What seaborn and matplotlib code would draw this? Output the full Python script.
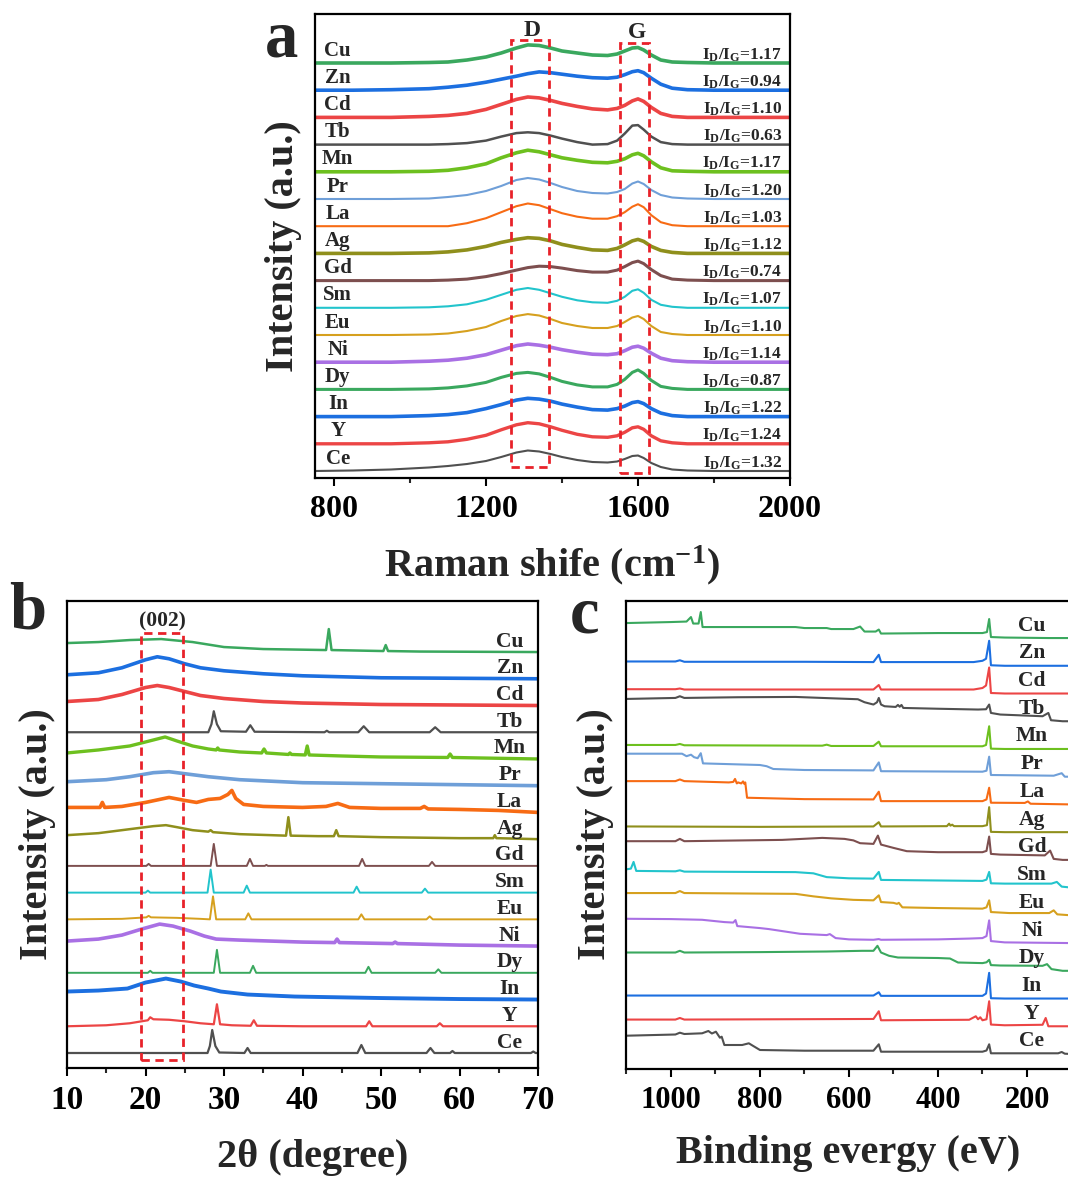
import numpy as np
import pandas as pd
import matplotlib
matplotlib.use("Agg")
import matplotlib.pyplot as plt
from matplotlib.patches import Rectangle
from matplotlib.ticker import FixedLocator
import seaborn as sns

# ------------------------------------------------------------------
# Samples (top to bottom in every panel) and their colours
# ------------------------------------------------------------------
samples = ["Cu", "Zn", "Cd", "Tb", "Mn", "Pr", "La", "Ag",
           "Gd", "Sm", "Eu", "Ni", "Dy", "In", "Y", "Ce"]
colors = ["#3aa85e", "#1c6fe0", "#ec4545", "#505050", "#6dc01f", "#6f9fd8",
          "#f76b14", "#8f8f1c", "#7d4f4f", "#22c4cc", "#d6a01e", "#a970e4",
          "#3aa85e", "#1c6fe0", "#ec4545", "#505050"]
id_ig = [1.17, 0.94, 1.10, 0.63, 1.17, 1.20, 1.03, 1.12,
         0.74, 1.07, 1.10, 1.14, 0.87, 1.22, 1.24, 1.32]

# ------------------------------------------------------------------
# (a) Raman: intensity above each trace's baseline
# ------------------------------------------------------------------
raman_shift = [750, 850, 950, 1050, 1100, 1150, 1200, 1240, 1280, 1310, 1340, 1370, 1400, 1440,
               1480, 1520, 1545, 1565, 1585, 1600, 1615, 1635, 1660, 1690, 1730, 1800, 1900, 2000]
raman_cu = [0, 0, 0, 0.5, 1, 3, 6, 10, 15, 18.1, 17.5, 15, 12, 10, 8, 7.5, 9, 12, 15, 15.5, 13, 8, 3, 1, 0.5, 0, 0, 0]
raman_zn = [0, 0, 0.5, 1.5, 3, 5, 8, 11, 14, 16.5, 18.3, 17.5, 16, 14, 12.5, 12, 13, 15.5, 18.5, 19.5, 17.5, 12, 6, 2, 0.5, 0, 0, 0]
raman_cd = [0, 0, 0, 1, 2, 4, 8, 13, 18, 20.4, 19.5, 17, 14, 11, 8.5, 7.5, 9, 12, 16.5, 18.5, 16, 10, 4, 1, 0, 0, 0, 0]
raman_tb = [0, 0, 0, 0, 0.5, 1.5, 4, 8, 11.5, 12.3, 11.5, 9, 6, 2.5, 0, 0.5, 4, 11, 19, 19.5, 15, 8, 2.5, 0.5, 0, 0, 0, 0]
raman_mn = [0, 0, 0, 0.5, 1.5, 4, 8, 14, 19, 21.6, 20, 17, 14, 11.5, 9.5, 9, 10.5, 13, 17, 18.5, 16, 10, 4, 1, 0.5, 0, 0, 0]
raman_pr = [0, 0, 0, 0.5, 2, 4, 8, 13, 19, 21, 19.5, 16, 12, 8, 6, 5.5, 7, 10, 15.5, 17.5, 15, 9, 4, 1.5, 0.5, 0, 0, 0]
raman_la = [0, 0, 0, 0, 0, 3, 8, 14, 20, 22.7, 21, 17, 13, 9.5, 7.5, 7.5, 10, 14, 19.5, 22, 19, 11, 4, 1, 0, 0, 0, 0]
raman_ag = [0, 0, 0, 0.5, 1.5, 3.5, 7, 11, 14, 15.7, 15, 12.5, 9, 6, 3.5, 3, 5, 8.5, 12.5, 14, 12, 7, 3, 1, 0, 0, 0, 0]
raman_gd = [0, 0, 0, 0, 0.5, 1.5, 4, 7, 10.5, 13, 14.4, 14, 12.5, 10, 8.5, 8.5, 10.5, 14, 18, 19.5, 17, 11, 5, 1.5, 0.5, 0, 0, 0]
raman_sm = [0, 0, 0, 0.5, 1.5, 3.5, 8, 13, 18, 19.8, 18, 14.5, 11, 7.5, 5.5, 5, 7, 11, 17, 18.5, 15, 8, 3, 1, 0, 0, 0, 0]
raman_eu = [0, 0, 0, 0.5, 1.5, 4, 8, 14, 19, 20.9, 19.5, 16, 12, 9, 7, 7, 9, 13, 17.5, 19, 16, 9, 3, 1, 0, 0, 0, 0]
raman_ni = [0, 0, 0, 1, 2, 4, 7.5, 12, 16.5, 18.2, 17, 15, 12.5, 10, 8, 7.5, 8.5, 11.5, 15, 16, 14, 9, 4, 1.5, 0.5, 0, 0, 0]
raman_dy = [0, 0, 0, 0.5, 1.5, 3.5, 7, 12, 16, 17, 15.5, 12, 8, 4.5, 2.5, 2.5, 5, 10, 17, 19.5, 16, 9, 3, 1, 0, 0, 0, 0]
raman_in = [0, 0, 0, 1, 2, 4, 8, 12, 16.5, 18.3, 17.5, 15.5, 12.5, 9.5, 7, 6.5, 8, 10.5, 14, 15, 13, 8, 3.5, 1, 0, 0, 0, 0]
raman_y = [0, 0, 0, 1, 2, 4.5, 8.5, 14, 19, 21.1, 20, 17, 13.5, 9.5, 7, 6.5, 8, 11.5, 16, 17, 14.5, 8, 3, 1, 0, 0, 0, 0]
raman_ce = [0, 0.5, 1.5, 3.5, 5, 7, 10, 14, 18.5, 20.5, 19.5, 17, 14, 11, 9, 8.5, 9.5, 12, 15, 15.5, 13, 8, 4, 1.5, 0.5, 0, 0, 0]

# ------------------------------------------------------------------
# (b) XRD: (2theta, intensity above baseline)
# ------------------------------------------------------------------
cu_xrd = [(10, 9), (14, 10), (18, 12), (22, 13), (26, 10), (30, 5), (35, 3), (43.0, 2), (43.35, 23), (43.7, 2),
          (50.3, 1), (50.6, 7), (50.9, 1), (55, 0.5), (70, 0)]
zn_xrd = [(10, 4), (14, 6), (17, 11), (20, 19), (21.5, 22), (23, 20), (25, 15), (27, 11), (30, 8), (35, 5),
          (40, 3), (50, 1), (60, 0.5), (70, 0)]
cd_xrd = [(10, 4), (14, 6), (17, 11), (20, 18), (21.5, 20), (23, 18), (25, 14), (27, 10), (30, 7), (35, 4),
          (40, 2.5), (50, 1), (70, 0)]
tb_xrd = [(10, 0), (28.0, 0), (28.4, 8), (28.7, 21), (29.1, 8), (29.6, 1), (32.8, 0.5), (33.35, 7), (33.9, 0.5),
          (42.8, 0), (43.1, 1.5), (43.4, 0), (47.1, 0), (47.8, 6), (48.5, 0), (56.2, 0), (56.9, 5), (57.6, 0), (70, 0)]
mn_xrd = [(10, 6), (14, 9), (18, 13), (21, 19), (22.5, 22), (24, 18), (26, 13), (28, 10), (29.0, 9), (29.2, 11),
          (29.4, 9), (32, 7), (34.8, 6), (35.1, 10), (35.4, 6), (38.2, 4.5), (38.4, 6), (38.6, 4.5), (40.35, 4),
          (40.6, 13), (40.85, 4), (45, 3), (50, 2), (58.5, 1.5), (58.8, 5), (59.1, 1.5), (70, 0)]
pr_xrd = [(10, 4), (15, 6), (18, 9), (21, 13), (23, 14), (25, 12), (28, 9), (32, 6), (40, 3), (50, 2), (60, 1), (70, 0)]
la_xrd = [(10, 5), (14.2, 5), (14.5, 10), (14.8, 5), (17, 6), (20, 10), (23, 15), (25, 12), (26.5, 10), (28, 13),
          (29.5, 14), (30.5, 18), (31, 22), (31.5, 14), (32.5, 8), (35, 6), (40, 5), (43, 6), (44.5, 9), (46, 5),
          (50, 4), (55, 4), (55.5, 6), (56, 3.5), (60, 3), (65, 2), (70, 0)]
ag_xrd = [(10, 4), (14, 6), (18, 10), (21, 13), (22.6, 14), (24, 12), (26, 9), (28, 7.5), (28.3, 9), (28.6, 7),
          (32, 5), (36, 4), (37.9, 3.5), (38.2, 22), (38.5, 3.5), (42, 3), (44.0, 3), (44.3, 9), (44.6, 3), (50, 2),
          (60, 1), (64.3, 1), (64.5, 4), (64.7, 1), (70, 0)]
gd_xrd = [(10, 0), (20.1, 0), (20.4, 2), (20.7, 0), (28.3, 0), (28.7, 22), (29.1, 0), (32.9, 0), (33.3, 7), (33.7, 0),
          (35.2, 0), (35.4, 1), (35.6, 0), (47.2, 0), (47.6, 7), (48.0, 0), (56.1, 0), (56.5, 4), (56.9, 0), (70, 0)]
sm_xrd = [(10, 0), (20.0, 0), (20.3, 2), (20.6, 0), (27.9, 0), (28.3, 23), (28.7, 0), (32.5, 0), (32.9, 7), (33.3, 0),
          (46.5, 0), (46.9, 6), (47.3, 0), (55.2, 0), (55.6, 4), (56.0, 0), (70, 0)]
eu_xrd = [(10, 0), (17, 0.5), (20.1, 2), (20.4, 3.5), (20.7, 2), (24, 1.5), (27, 0.5), (28.2, 0), (28.6, 23),
          (29.0, 0), (32.7, 0), (33.1, 6), (33.5, 0), (47.1, 0), (47.5, 5), (47.9, 0), (55.8, 0), (56.2, 3),
          (56.6, 0), (70, 0)]
ni_xrd = [(10, 5), (14, 7), (17, 11), (19.5, 17), (21.8, 22), (23.5, 20), (25.7, 15), (27.5, 10), (29, 7), (32, 6),
          (36, 5), (40, 4), (44.1, 3.5), (44.4, 7), (44.7, 3.5), (48, 3), (51.5, 2.5), (51.8, 4), (52.1, 2.5),
          (60, 1), (70, 0)]
dy_xrd = [(10, 0), (20.3, 0), (20.6, 2), (20.9, 0), (28.7, 0), (29.1, 23), (29.5, 0), (33.3, 0), (33.7, 7), (34.1, 0),
          (48.0, 0), (48.4, 6), (48.8, 0), (56.9, 0), (57.3, 3.5), (57.7, 0), (70, 0)]
in_xrd = [(10, 8), (14, 9), (17.7, 11), (20, 17), (22.6, 21), (24.5, 18), (26.2, 14), (28, 11), (29.6, 8), (33, 5),
          (39, 3), (50, 1.5), (60, 0.5), (70, 0)]
y_xrd = [(10, 0), (15, 1), (18, 3), (20.3, 6), (20.6, 9), (21, 7), (23, 6.5), (25, 5), (27, 3), (28.7, 2), (29.1, 22),
         (29.5, 2), (31, 1), (33.4, 0.5), (33.8, 6), (34.2, 0.5), (40, 0), (48.1, 0), (48.5, 5), (48.9, 0), (57.1, 0),
         (57.5, 3), (57.9, 0), (70, 0)]
ce_xrd = [(10, 0), (27.9, 0), (28.2, 7), (28.5, 23), (28.9, 7), (29.4, 0.5), (32.6, 0), (33.0, 5), (33.4, 0),
          (47.0, 0), (47.5, 8), (48.0, 0), (55.8, 0), (56.3, 5), (56.8, 0), (58.8, 0), (59.1, 2), (59.4, 0),
          (69.1, 0), (69.4, 1.5), (69.7, 0), (70, 0)]

# ------------------------------------------------------------------
# (c) XPS survey: (binding energy, intensity above baseline)
# ------------------------------------------------------------------
cu_xps = [(1100, 15), (1000, 16), (965, 16.5), (955, 21), (950, 14.5), (938, 14.5), (933, 26), (929, 11), (850, 11),
          (720, 11), (700, 10), (650, 10), (640, 9), (590, 9), (575, 11.5), (565, 6.5), (540, 6.5), (533, 8.5),
          (528, 4.5), (400, 5), (300, 5), (290, 6), (285, 19), (281, 1), (250, 0.5), (150, 0), (100, 0)]
zn_xps = [(1100, 4.3), (990, 4.3), (980, 5.5), (970, 4), (700, 4), (545, 3.7), (533, 11), (528, 3.7), (320, 3.7),
          (300, 5), (292, 7), (285, 25), (281, 0.5), (250, 0), (100, 0)]
cd_xps = [(1100, 4.3), (990, 4.3), (980, 5), (970, 4), (700, 4), (545, 4), (533, 8.5), (528, 4), (320, 4),
          (300, 5.5), (292, 8), (285, 26), (281, 0.5), (250, 0), (100, 0)]
tb_xps = [(1100, 22.3), (990, 23.3), (980, 25), (970, 23.3), (850, 24), (720, 24.3), (660, 23.3), (580, 22),
          (565, 19), (545, 16.7), (537, 19), (533, 23.3), (528, 16.7), (520, 15), (495, 14.3), (490, 16.3),
          (486, 14.5), (482, 16.3), (478, 13.3), (400, 12.5), (310, 11.7), (292, 12), (285, 16.7), (281, 8.3),
          (260, 6.7), (165, 5), (152, 8.3), (146, 1), (120, 0), (100, 0)]
mn_xps = [(1100, 4), (990, 4), (980, 5), (970, 3.7), (660, 3.3), (650, 4.3), (640, 3), (545, 3), (533, 7.3),
          (528, 2.7), (300, 2.7), (292, 4), (285, 22.7), (281, 0.3), (250, 0), (100, 0)]
pr_xps = [(1100, 23), (990, 23), (975, 23), (965, 20.5), (955, 22), (948, 19.5), (940, 18.5), (933, 23.5),
          (928, 13.3), (800, 11.7), (785, 10.5), (770, 7.7), (700, 6.7), (545, 6.3), (533, 14.3), (528, 5.5),
          (300, 5), (291, 6), (285, 20), (281, 1.7), (140, 1), (122, 3.5), (115, 0), (100, 0)]
la_xps = [(1100, 23.3), (990, 23.3), (980, 25), (970, 23.3), (870, 22), (860, 22.5), (856, 25.5), (852, 21),
          (849, 22), (842, 21), (838, 23), (835, 20.5), (833, 22), (829, 6.7), (700, 5.3), (545, 5), (533, 12.7),
          (528, 3.3), (300, 3.3), (291, 5), (285, 16.7), (281, 1.7), (205, 1.5), (198, 3), (192, 0.7), (100, 0)]
ag_xps = [(1100, 5.7), (800, 5.3), (545, 5.7), (533, 10), (528, 5.7), (380, 6), (375, 8.5), (372, 6.5), (368, 7.5),
          (364, 6), (300, 6), (290, 7), (285, 25), (281, 0.3), (250, 0), (100, 0)]
gd_xps = [(1100, 18.7), (990, 18.7), (980, 21), (970, 18.7), (750, 20), (660, 22), (610, 21), (590, 19.5),
          (575, 16.7), (545, 16), (535, 24.3), (528, 15.3), (500, 12), (470, 8.7), (400, 7.7), (300, 7.7), (291, 9),
          (285, 23.3), (281, 6), (260, 5.3), (160, 4.5), (148, 9.3), (140, 1), (120, 0), (100, 0)]
sm_xps = [(1100, 18.3), (1090, 19), (1084, 25.7), (1078, 16.7), (990, 16.3), (980, 17.3), (970, 16), (720, 15.5),
          (680, 14.3), (650, 10.5), (600, 9.3), (545, 9), (533, 15.7), (528, 7.7), (300, 6.7), (291, 8), (285, 15.7),
          (281, 4.3), (250, 4), (145, 4), (133, 5.7), (122, 1), (100, 0)]
eu_xps = [(1100, 22.3), (990, 22.3), (980, 24.3), (970, 22.3), (720, 21.5), (680, 19), (640, 17), (590, 15.5),
          (545, 15), (533, 20), (528, 13.3), (500, 12.5), (492, 11.5), (488, 12.5), (480, 8), (400, 7.3), (300, 6.7),
          (291, 8), (285, 15), (281, 3.3), (240, 2.3), (150, 2.3), (140, 5), (132, 1), (100, 0)]
ni_xps = [(1100, 24.3), (1000, 24), (930, 23.3), (880, 21), (860, 20.5), (855, 23), (851, 17), (800, 15), (780, 14),
          (710, 9.3), (650, 8), (643, 9), (630, 5), (600, 3.7), (545, 3.3), (533, 4), (528, 3.3), (400, 3.7),
          (330, 4.5), (300, 5), (291, 7), (285, 22.7), (281, 2), (250, 0.7), (100, 0)]
dy_xps = [(1100, 18.3), (990, 18.3), (980, 20), (970, 18.3), (800, 18.7), (650, 19.3), (570, 20), (545, 20),
          (536, 25), (528, 18.3), (510, 15), (490, 13.3), (400, 12.8), (373, 12.3), (355, 8.3), (300, 7.7),
          (291, 8.5), (285, 11), (281, 5.7), (260, 5.3), (165, 5), (155, 6.7), (145, 1.7), (120, 0), (100, 0)]
in_xps = [(1100, 3), (545, 3), (533, 6.3), (528, 2.7), (300, 2.7), (292, 5), (285, 25.7), (281, 0.3), (250, 0),
          (100, 0)]
y_xps = [(1100, 6.7), (990, 6.7), (980, 8.3), (970, 6.7), (545, 7.3), (533, 15), (528, 6), (330, 6.5), (315, 10),
         (310, 7), (305, 9), (300, 6), (291, 7), (285, 25), (281, 1.7), (250, 1), (165, 1.5), (158, 8.3), (152, 0),
         (100, 0)]
ce_xps = [(1100, 18.3), (990, 19.5), (980, 21.3), (970, 20), (930, 20.7), (916, 23), (908, 20.5), (899, 22.3),
          (890, 16.3), (886, 17.3), (880, 9), (840, 9), (825, 10.7), (815, 8), (800, 4), (700, 3.3), (545, 3.3),
          (533, 9.7), (528, 2.3), (300, 2.3), (291, 3.5), (285, 9.7), (281, 0.7), (130, 0.7), (122, 2), (115, 0.3),
          (100, 0)]

raman_curves = [raman_cu, raman_zn, raman_cd, raman_tb, raman_mn, raman_pr, raman_la, raman_ag,
                raman_gd, raman_sm, raman_eu, raman_ni, raman_dy, raman_in, raman_y, raman_ce]
xrd_curves = [cu_xrd, zn_xrd, cd_xrd, tb_xrd, mn_xrd, pr_xrd, la_xrd, ag_xrd,
              gd_xrd, sm_xrd, eu_xrd, ni_xrd, dy_xrd, in_xrd, y_xrd, ce_xrd]
xps_curves = [cu_xps, zn_xps, cd_xps, tb_xps, mn_xps, pr_xps, la_xps, ag_xps,
              gd_xps, sm_xps, eu_xps, ni_xps, dy_xps, in_xps, y_xps, ce_xps]

# ------------------------------------------------------------------
# Style
# ------------------------------------------------------------------
sns.set_theme(style="white")
plt.rcParams["font.family"] = ["Liberation Serif", "DejaVu Serif"]
plt.rcParams["font.weight"] = "bold"
plt.rcParams["mathtext.fontset"] = "custom"
plt.rcParams["mathtext.rm"] = "Liberation Serif:bold"
plt.rcParams["mathtext.bf"] = "Liberation Serif:bold"
plt.rcParams["mathtext.it"] = "Liberation Serif:bold:italic"
plt.rcParams["axes.edgecolor"] = "black"

W, H = 1068, 1177
fig = plt.figure(figsize=(W / 100, H / 100), dpi=100)


def box(left, top, right, bottom):
    return [left / W, 1 - bottom / H, (right - left) / W, (bottom - top) / H]


def style_axes(ax, major, minor, fs):
    for s in ax.spines.values():
        s.set_linewidth(1.6)
        s.set_color("black")
    ax.xaxis.set_major_locator(FixedLocator(major))
    ax.xaxis.set_minor_locator(FixedLocator(minor))
    ax.tick_params(axis="x", which="major", direction="out", length=6, width=1.5,
                   labelsize=fs, pad=6, bottom=True, top=False, colors="black")
    ax.tick_params(axis="x", which="minor", direction="out", length=3.5, width=1.5,
                   bottom=True, top=False)
    ax.set_yticks([])
    ax.set_xlabel("")
    ax.set_ylabel("")
    for lab in ax.get_xticklabels():
        lab.set_fontweight("bold")


def stack(ax, xs_list, ys_list, spacing, widths):
    n = len(samples)
    for i in range(n):
        base = (n - 1 - i) * spacing
        df = pd.DataFrame({"x": np.asarray(xs_list[i], float),
                           "y": np.asarray(ys_list[i], float) + base})
        sns.lineplot(data=df, x="x", y="y", ax=ax, color=colors[i], linewidth=widths[i],
                     estimator=None, sort=False, legend=False)


n = len(samples)
red_dash = dict(fill=False, edgecolor="#e8222a", linewidth=2.0, linestyle=(0, (3, 2)), zorder=5)

# ---------------- panel a ----------------
ax_a = fig.add_axes(box(315, 14, 790, 478))
sp_a = 27.2
lw_a = [2.6, 2.6, 2.6, 1.8, 2.6, 1.5, 1.5, 2.6, 2.2, 1.5, 1.5, 2.6, 2.2, 2.6, 2.4, 1.5]
stack(ax_a, [raman_shift] * n, raman_curves, sp_a, lw_a)
ax_a.set_xlim(750, 2000)
ax_a.set_ylim(-7, 457)
style_axes(ax_a, [800, 1200, 1600, 2000], [1000, 1400, 1800], 23)
for i, name in enumerate(samples):
    base = (n - 1 - i) * sp_a
    ax_a.text(810, base + 12.5, name, ha="center", va="center", fontsize=15, fontweight="bold")
    ax_a.text(1979, base + 8, r"I$_\mathrm{D}$/I$_\mathrm{G}$=" + f"{id_ig[i]:.2f}",
              ha="right", va="center", fontsize=12.5, fontweight="bold")
ax_a.add_patch(Rectangle((1266, 4), 100, 427, **red_dash))
ax_a.add_patch(Rectangle((1553, -2), 76, 430, **red_dash))
ax_a.text(1321, 440, "D", ha="center", va="center", fontsize=17, fontweight="bold")
ax_a.text(1597, 439, "G", ha="center", va="center", fontsize=17, fontweight="bold")

# ---------------- panel b ----------------
ax_b = fig.add_axes(box(67, 601, 538, 1068))
sp_b = 26.73
lw_b = [1.8, 2.6, 2.6, 1.6, 2.4, 2.6, 2.6, 1.8, 1.4, 1.4, 1.4, 2.6, 1.4, 2.8, 1.6, 1.6]
stack(ax_b, [[p[0] for p in c] for c in xrd_curves], [[p[1] for p in c] for c in xrd_curves], sp_b, lw_b)
ax_b.set_xlim(10, 70)
ax_b.set_ylim(-15, 452)
style_axes(ax_b, list(range(10, 71, 10)), list(range(15, 70, 10)), 24)
for i, name in enumerate(samples):
    base = (n - 1 - i) * sp_b
    ax_b.text(66.4, base + 10.5, name, ha="center", va="center", fontsize=15.5, fontweight="bold")
ax_b.add_patch(Rectangle((19.4, -7), 5.4, 427, **red_dash))
ax_b.text(22.2, 432, "(002)", ha="center", va="center", fontsize=15.5, fontweight="bold")

# ---------------- panel c ----------------
ax_c = fig.add_axes(box(626, 601, 1116, 1069))
sp_c = 27.73
lw_c = [1.5] * n
stack(ax_c, [[p[0] for p in c] for c in xps_curves], [[p[1] for p in c] for c in xps_curves], sp_c, lw_c)
ax_c.set_xlim(1101, 0)
ax_c.set_ylim(-15, 453)
style_axes(ax_c, [1000, 800, 600, 400, 200], [1100, 900, 700, 500, 300, 100], 22)
for i, name in enumerate(samples):
    base = (n - 1 - i) * sp_c
    ax_c.text(189, base + 12.5, name, ha="center", va="center", fontsize=15.5, fontweight="bold")

# ---------------- axis titles and panel letters ----------------
def ftext(x, y, s, **kw):
    fig.text(x / W, 1 - y / H, s, ha="center", va="center", fontweight="bold", **kw)


ftext(552, 565, r"Raman shife (cm$^{\mathrm{-1}}$)", fontsize=29)
ftext(313, 1158, "2θ (degree)", fontsize=29)
ftext(848, 1153, "Binding evergy (eV)", fontsize=29)
ftext(284, 246, "Intensity (a.u.)", fontsize=29, rotation=90)
ftext(38, 834, "Intensity (a.u.)", fontsize=29, rotation=90)
ftext(596, 834, "Intensity (a.u.)", fontsize=29, rotation=90)
ftext(282, 40, "a", fontsize=48)
ftext(28, 612, "b", fontsize=48)
ftext(585, 616, "c", fontsize=48)

fig.savefig("out.png", dpi=100)
